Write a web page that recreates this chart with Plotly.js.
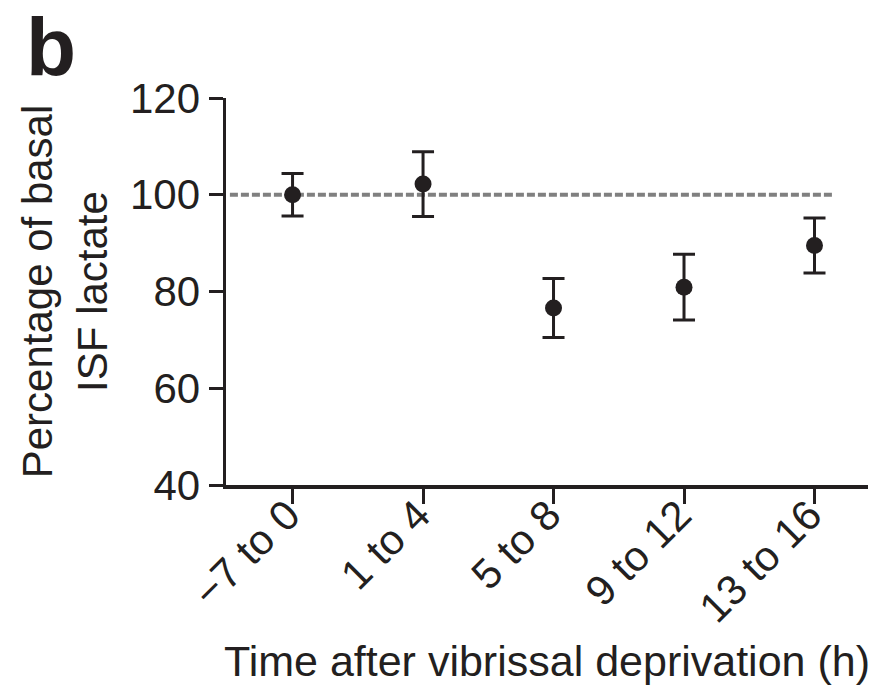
<!DOCTYPE html>
<html>
<head>
<meta charset="utf-8">
<script src="https://cdn.plot.ly/plotly-3.0.1.min.js"></script>
<style>html,body{margin:0;padding:0;background:#fff;}#chart{width:871px;height:685px;}</style>
</head>
<body>
<div id="chart"></div>
<script>
const categories = ["\u22127 to 0", "1 to 4", "5 to 8", "9 to 12", "13 to 16"];
const meanValues = [100.0, 102.2, 76.6, 80.9, 89.5];
const errorValues = [4.4, 6.7, 6.1, 6.8, 5.7];
const baselineValue = 100;
const yTickValues = [40, 60, 80, 100, 120];

const ink = '#231f20';
const font = 'Liberation Sans, Arial, Helvetica, sans-serif';
const fs = 42;

const traces = [
  {
    type: 'scatter',
    mode: 'markers',
    x: categories,
    y: meanValues,
    marker: {color: ink, size: 17},
    error_y: {type: 'data', array: errorValues, visible: true, color: ink, thickness: 3, width: 11},
    cliponaxis: false,
    showlegend: false,
    hoverinfo: 'x+y'
  }
];

const layout = {
  width: 871,
  height: 685,
  margin: {l: 226, r: 3, t: 98, b: 200},
  paper_bgcolor: '#ffffff',
  plot_bgcolor: '#ffffff',
  font: {family: font, color: ink, size: fs},
  showlegend: false,
  xaxis: {
    type: 'category',
    categoryorder: 'array',
    categoryarray: categories,
    range: [-0.51, 4.41],
    showgrid: false,
    zeroline: false,
    showline: true,
    linecolor: ink,
    linewidth: 3.5,
    ticks: 'outside',
    ticklen: 15,
    tickwidth: 3,
    tickcolor: ink,
    tickangle: -45,
    ticklabelstandoff: -30,
    ticklabelshift: -5,
    tickfont: {family: font, size: fs, color: ink},
    title: {text: 'Time after vibrissal deprivation (h)', font: {family: font, size: 43, color: ink}, standoff: 36},
    automargin: false
  },
  yaxis: {
    range: [40, 120],
    tickvals: yTickValues,
    ticktext: yTickValues.map(String),
    showgrid: false,
    zeroline: false,
    showline: true,
    linecolor: ink,
    linewidth: 3.5,
    ticks: 'outside',
    ticklen: 14,
    tickwidth: 3,
    tickcolor: ink,
    tickfont: {family: font, size: fs, color: ink},
    title: {text: 'Percentage of basal<br>ISF lactate', font: {family: font, size: fs, color: ink}, standoff: 10},
    automargin: false
  },
  shapes: [
    {
      type: 'line', xref: 'x', yref: 'y',
      x0: -0.48, x1: 4.14, y0: baselineValue, y1: baselineValue,
      line: {color: '#808080', width: 4, dash: '8px,3px'},
      layer: 'below'
    }
  ],
  annotations: [
    {
      text: '<b>b</b>', xref: 'paper', yref: 'paper',
      x: -0.313, y: 1.252, xanchor: 'left', yanchor: 'top',
      borderpad: 0,
      showarrow: false,
      font: {family: font, size: 82, color: ink}
    }
  ]
};

Plotly.newPlot('chart', traces, layout, {displayModeBar: false, staticPlot: true});
</script>
</body>
</html>
